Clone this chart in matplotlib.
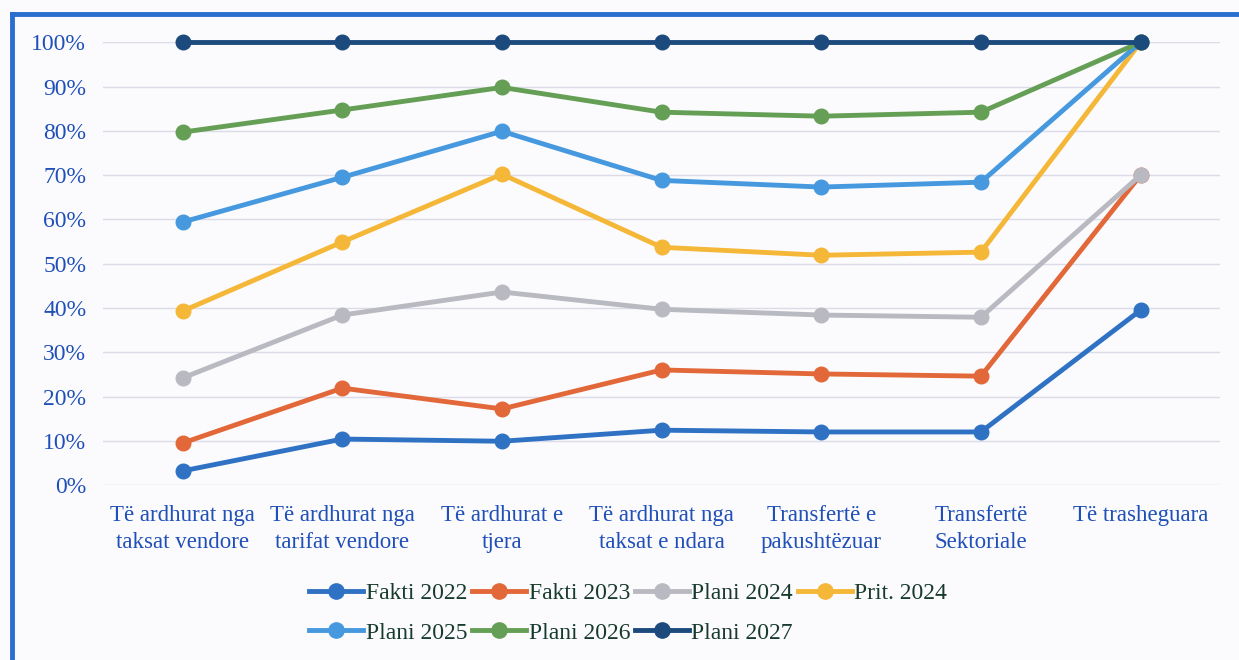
import matplotlib as mpl
from matplotlib import pyplot as plt
from matplotlib.ticker import PercentFormatter, MultipleLocator
from matplotlib.lines import Line2D

mpl.rcParams["font.family"] = ["Liberation Serif", "DejaVu Serif"]

categories = ["Të ardhurat nga\ntaksat vendore", "Të ardhurat nga\ntarifat vendore",
              "Të ardhurat e\ntjera", "Të ardhurat nga\ntaksat e ndara",
              "Transfertë e\npakushtëzuar", "Transfertë\nSektoriale", "Të trasheguara"]

fakti_2022 = [0.032, 0.104, 0.099, 0.124, 0.120, 0.120, 0.395]
fakti_2023 = [0.095, 0.219, 0.172, 0.260, 0.251, 0.246, 0.700]
plani_2024 = [0.242, 0.384, 0.436, 0.397, 0.384, 0.379, 0.700]
prit_2024 = [0.393, 0.549, 0.702, 0.537, 0.519, 0.526, 1.000]
plani_2025 = [0.594, 0.695, 0.799, 0.688, 0.673, 0.684, 1.000]
plani_2026 = [0.797, 0.847, 0.898, 0.842, 0.833, 0.842, 1.000]
plani_2027 = [1.0, 1.0, 1.0, 1.0, 1.0, 1.0, 1.0]

series = [("Fakti 2022", fakti_2022, "#2f72c4"),
          ("Fakti 2023", fakti_2023, "#e2683a"),
          ("Plani 2024", plani_2024, "#b9b9c1"),
          ("Prit. 2024", prit_2024, "#f5b738"),
          ("Plani 2025", plani_2025, "#4699de"),
          ("Plani 2026", plani_2026, "#649f55"),
          ("Plani 2027", plani_2027, "#1d4a7c")]

fig = plt.figure(figsize=(12.39, 6.6), dpi=100)
fig.patch.set_facecolor("#fbfbfd")
ax = fig.add_axes([0.083, 0.265, 0.902, 0.671])
ax.set_facecolor("#fbfbfd")

x = list(range(len(categories)))
for name, vals, col in series:
    ax.plot(x, vals, color=col, lw=3.5, marker="o", markersize=10.5,
            label=name, clip_on=False, zorder=3)

ax.set_xlim(-0.5, 6.5)
ax.set_ylim(0, 1.0)
ax.yaxis.set_major_locator(MultipleLocator(0.1))
ax.yaxis.set_major_formatter(PercentFormatter(1.0, decimals=0))
ax.grid(axis="y", color="#dcdce8", lw=1.0, zorder=0)
for s in ax.spines.values():
    s.set_visible(False)
ax.tick_params(length=0, labelsize=17, colors="#1f4fb8", pad=12)
ax.tick_params(axis="x", labelsize=16.5, pad=14)
ax.set_xticks(x)
ax.set_xticklabels(categories, linespacing=1.4)

# legend filled row by row: 4 items on the first row, 3 on the second
handles = [Line2D([0], [0], color=c, lw=3.5, marker="o", markersize=11) for _, _, c in series]
labels = [n for n, _, _ in series]
order = [0, 4, 1, 5, 2, 6, 3]
leg = fig.legend([handles[i] for i in order], [labels[i] for i in order],
                 loc="center", bbox_to_anchor=(0.507, 0.071), ncol=4,
                 frameon=False, fontsize=17, handlelength=2.3, handletextpad=0.1,
                 columnspacing=0.2, labelspacing=0.75)
for t in leg.get_texts():
    t.set_color("#173a2c")

# blue frame at the top and left edges
fig.add_artist(Line2D([0.0095, 1.0], [0.979, 0.979], color="#2a6fd0", lw=3.5,
                      transform=fig.transFigure))
fig.add_artist(Line2D([0.0095, 0.0095], [0.0, 0.979], color="#2a6fd0", lw=3.5,
                      transform=fig.transFigure))

fig.savefig("out.png", dpi=100, facecolor=fig.get_facecolor())
